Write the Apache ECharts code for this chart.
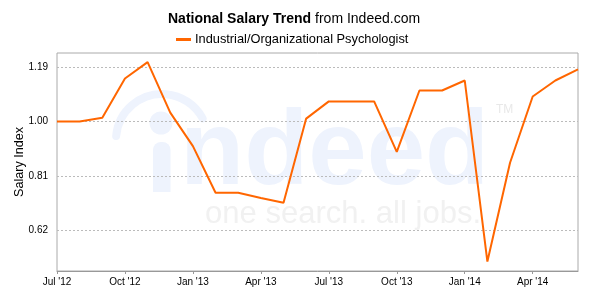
<!DOCTYPE html>
<html>
<head>
<meta charset="utf-8">
<script src="https://cdn.jsdelivr.net/npm/echarts@6/dist/echarts.min.js"></script>
<style>
html,body{margin:0;padding:0;background:#fff;}
#c{width:596px;height:296px;}
</style>
</head>
<body>
<div id="c"></div>
<script>
var months = ["Jul '12","Aug '12","Sep '12","Oct '12","Nov '12","Dec '12",
              "Jan '13","Feb '13","Mar '13","Apr '13","May '13","Jun '13",
              "Jul '13","Aug '13","Sep '13","Oct '13","Nov '13","Dec '13",
              "Jan '14","Feb '14","Mar '14","Apr '14","May '14","Jun '14"];
var salaryIndex = [1.000,1.000,1.013,1.150,1.207,1.031,
                   0.914,0.751,0.751,0.733,0.716,1.010,
                   1.070,1.070,1.070,0.894,1.108,1.108,
                   1.143,0.511,0.856,1.087,1.143,1.182];
var yTicks = [0.62,0.81,1.00,1.19];
var seriesName = "Industrial/Organizational Psychologist";

var chart = echarts.init(document.getElementById('c'), null, {renderer:'canvas'});
var wmBlue = '#eef3fd', wmGray = '#f1f1f1';
chart.setOption({
  backgroundColor:'#fff',
  animation:false,
  title:{
    text:'{b|National Salary Trend}{n| from Indeed.com}',
    left:168, top:12, padding:0,
    textStyle:{
      rich:{
        b:{fontFamily:'Liberation Sans',fontWeight:'bold',fontSize:14,color:'#000'},
        n:{fontFamily:'Liberation Sans',fontWeight:'normal',fontSize:14,color:'#000'}
      }
    }
  },
  legend:{
    left:176, top:33, padding:0,
    itemWidth:15, itemHeight:3, itemGap:10,
    data:[{name:seriesName, icon:'rect'}],
    textStyle:{fontFamily:'Liberation Sans',fontSize:12.8,color:'#000',padding:[0,0,0,-1]}
  },
  graphic:[
    {type:'arc', z:-10, shape:{cx:162,cy:140,r:46,startAngle:185*Math.PI/180,endAngle:332*Math.PI/180},
     style:{stroke:wmBlue,lineWidth:8,fill:null,lineCap:'round'}},
    {type:'circle', z:-10, shape:{cx:161,cy:123,r:11.5}, style:{fill:wmBlue}},
    {type:'rect', z:-10, shape:{x:153,y:142,width:17.5,height:50,r:[8,8,0,0]}, style:{fill:wmBlue}},
    {type:'text', z:-10, x:180, y:155, scaleX:1.0,
     style:{text:'ndeed', font:'bold 105px "Liberation Sans"', fill:wmBlue, textVerticalAlign:'middle'}},
    {type:'text', z:-10, x:496, y:110,
     style:{text:'TM', font:'12px "Liberation Sans"', fill:'#e8e8e8', textVerticalAlign:'middle'}},
    {type:'text', z:-10, x:205, y:214, scaleX:0.97,
     style:{text:'one search. all jobs.', font:'32px "Liberation Sans"', fill:wmGray, textVerticalAlign:'middle'}}
  ],
  grid:{left:57,right:18,top:53,bottom:25,show:true,borderColor:'#aaa',borderWidth:1,
        containLabel:false, outerBoundsMode:'none'},
  xAxis:{
    type:'category', data:months, boundaryGap:false,
    axisLine:{lineStyle:{color:'#999'}},
    axisTick:{interval:2,length:3,lineStyle:{color:'#999'}},
    axisLabel:{interval:2,margin:6,fontFamily:'Liberation Sans',fontSize:10,color:'#000'},
    splitLine:{show:false}
  },
  yAxis:{
    type:'value', min:0.478, max:1.239,
    name:'Salary Index', nameLocation:'middle', nameGap:31, nameMoveOverlap:false,
    nameTextStyle:{fontFamily:'Liberation Sans',fontSize:12.6,color:'#000'},
    axisLine:{show:false},
    axisTick:{show:false, customValues:yTicks},
    axisLabel:{customValues:yTicks, margin:9, fontFamily:'Liberation Sans',fontSize:10,color:'#000',
      formatter:function(v){return v.toFixed(2);}},
    splitLine:{show:true,lineStyle:{color:'#bbb',type:[2,2],width:1}}
  },
  series:[{
    name:seriesName, type:'line', data:salaryIndex,
    symbol:'none', color:'#ff6600',
    lineStyle:{width:2,color:'#ff6600'}
  }]
});
</script>
</body>
</html>
